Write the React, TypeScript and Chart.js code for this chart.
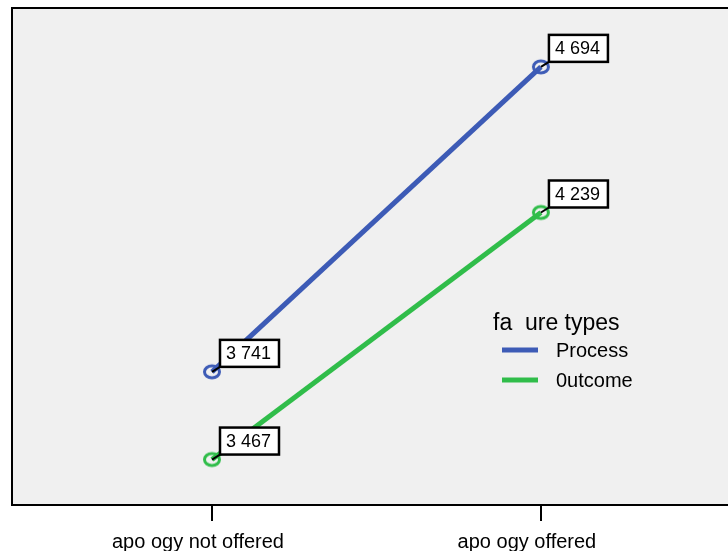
import React, { useEffect, useRef } from 'react';
import { Chart, registerables } from 'chart.js';

Chart.register(...registerables);

const categories = ['apo ogy not offered', 'apo ogy offered'];
const seriesNames = ['Process', '0utcome'];
const processValues = [3.741, 4.694];
const outcomeValues = [3.467, 4.239];
const legendTitle = 'fa  ure types';

const BLUE = '#3d5bb6';
const GREEN = '#30bd4a';
const FONT = '"Liberation Sans", Arial, sans-serif';

function ellipseMarker(color: string): HTMLCanvasElement {
  const c = document.createElement('canvas');
  c.width = 22;
  c.height = 18;
  const ctx = c.getContext('2d')!;
  ctx.strokeStyle = color;
  ctx.lineWidth = 3;
  ctx.beginPath();
  ctx.ellipse(11, 9, 7.5, 6, 0, 0, Math.PI * 2);
  ctx.stroke();
  return c;
}

const frameAndLabels = {
  id: 'frameAndLabels',
  beforeDraw(chart: any) {
    const { ctx, chartArea } = chart;
    const { left, top, right, bottom } = chartArea;
    ctx.save();
    ctx.fillStyle = '#f0f0f0';
    ctx.fillRect(left, top, right - left, bottom - top);
    ctx.restore();
  },
  beforeDatasetsDraw(chart: any) {
    const { ctx, chartArea } = chart;
    const { left, top, right, bottom } = chartArea;
    ctx.save();
    ctx.strokeStyle = '#000';
    ctx.lineWidth = 2;
    ctx.strokeRect(left, top, right - left, bottom - top);
    ctx.restore();
  },
  afterDatasetsDraw(chart: any) {
    const { ctx } = chart;
    ctx.save();
    chart.data.datasets.forEach((ds: any, di: number) => {
      const meta = chart.getDatasetMeta(di);
      meta.data.forEach((pt: any, i: number) => {
        const v = ds.data[i].y;
        const px = pt.x;
        const py = pt.y;
        const bx = px + 8;
        const by = py - 32;
        const bw = 59;
        const bh = 27;
        ctx.strokeStyle = '#000';
        ctx.lineWidth = 2;
        ctx.beginPath();
        ctx.moveTo(px, py);
        ctx.lineTo(bx, by + bh);
        ctx.stroke();
        ctx.fillStyle = '#fff';
        ctx.fillRect(bx, by, bw, bh);
        ctx.lineWidth = 2.5;
        ctx.strokeRect(bx, by, bw, bh);
        ctx.fillStyle = '#000';
        ctx.font = `18px ${FONT}`;
        ctx.textAlign = 'center';
        ctx.textBaseline = 'middle';
        ctx.fillText(v.toFixed(3).replace('.', ' '), bx + bw / 2 - 1, by + bh / 2 + 1);
      });
    });
    ctx.restore();
  },
  afterDraw(chart: any) {
    const { ctx } = chart;
    ctx.save();
    ctx.fillStyle = '#000';
    ctx.textAlign = 'left';
    ctx.textBaseline = 'alphabetic';
    ctx.font = `23px ${FONT}`;
    ctx.fillText(legendTitle, 493, 330);
    ctx.font = `20px ${FONT}`;
    ctx.textBaseline = 'middle';
    chart.data.datasets.forEach((ds: any, i: number) => {
      const y = 350 + i * 30;
      ctx.strokeStyle = ds.borderColor;
      ctx.lineWidth = 5;
      ctx.beginPath();
      ctx.moveTo(502, y);
      ctx.lineTo(538, y);
      ctx.stroke();
      ctx.fillStyle = '#000';
      ctx.fillText(ds.label, 556, y + 1);
    });
    ctx.restore();
  },
};

export default function App() {
  const ref = useRef<HTMLCanvasElement>(null);

  useEffect(() => {
    if (!ref.current) return;
    const chart = new Chart(ref.current, {
      type: 'line',
      data: {
        datasets: [
          {
            label: seriesNames[0],
            data: processValues.map((v, i) => ({ x: i, y: v })),
            borderColor: BLUE,
            backgroundColor: BLUE,
            borderWidth: 5,
            pointStyle: ellipseMarker(BLUE) as any,
            pointRadius: 7,
          },
          {
            label: seriesNames[1],
            data: outcomeValues.map((v, i) => ({ x: i, y: v })),
            borderColor: GREEN,
            backgroundColor: GREEN,
            borderWidth: 5,
            pointStyle: ellipseMarker(GREEN) as any,
            pointRadius: 7,
          },
        ],
      },
      options: {
        responsive: false,
        animation: false,
        devicePixelRatio: 1,
        layout: { autoPadding: false, padding: { left: 12, top: 8, right: 0, bottom: 0 } },
        plugins: { legend: { display: false }, tooltip: { enabled: false } },
        scales: {
          x: {
            type: 'linear',
            min: -0.608,
            max: 1.666,
            afterBuildTicks: (axis: any) => {
              axis.ticks = [0, 1].map((v) => ({ value: v }));
            },
            afterFit: (scale: any) => {
              scale.height = 46;
            },
            grid: {
              display: true,
              drawOnChartArea: false,
              drawTicks: true,
              tickLength: 16,
              color: '#000',
              lineWidth: 2,
            },
            border: { display: false },
            ticks: {
              autoSkip: false,
              maxRotation: 0,
              padding: 9,
              labelOffset: -14,
              color: '#000',
              font: { family: FONT, size: 20 },
              callback: (v: any) => categories[v] ?? '',
            },
          },
          y: {
            display: false,
            min: 3.325,
            max: 4.878,
          },
        },
      },
      plugins: [frameAndLabels],
    });
    return () => chart.destroy();
  }, []);

  return (
    <div
      style={{
        position: 'fixed',
        left: 0,
        top: 0,
        width: 728,
        height: 551,
        overflow: 'hidden',
        background: '#fff',
      }}
    >
      <canvas ref={ref} width={760} height={551} style={{ display: 'block' }} />
    </div>
  );
}
